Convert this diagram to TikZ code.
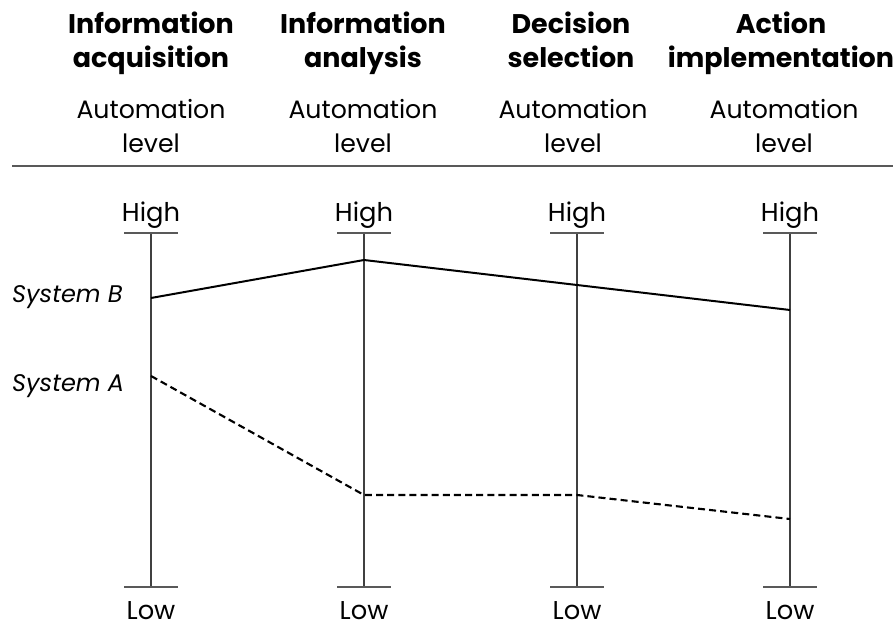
\documentclass[tikz,border=0pt]{standalone}
\usepackage{fontspec}
\setmainfont{Poppins}
\usepackage{tikz}

\begin{document}
\begin{tikzpicture}[x=0.03cm,y=-0.03cm,
    head/.style={anchor=north,align=center,inner sep=0pt,font=\fontsize{23}{29}\selectfont\bfseries},
    sub/.style={anchor=north,align=center,inner sep=0pt,font=\fontsize{21.5}{29}\selectfont},
    ends/.style={anchor=base,inner sep=0pt,font=\fontsize{22}{29}\selectfont},
    sys/.style={anchor=west,inner sep=0pt,font=\fontsize{20.5}{29}\selectfont\itshape},
    axis/.style={draw=black!75,line width=1pt},
    tick/.style={draw=black!65,line width=2pt},
    sysb/.style={draw=black,line width=1.7pt},
    sysa/.style={draw=black,line width=1.8pt,dash pattern=on 6pt off 3.5pt}]

    \useasboundingbox (0,0) rectangle (893,629);

    % headers
    \node[head] (h1) at (151,12) {Information\\acquisition};
    \node[head] (h2) at (363,12) {Information\\analysis};
    \node[head] (h3) at (571,12) {Decision\\selection};
    \node[head] (h4) at (781,12) {Action\\implementation};

    \node[sub] (s1) at (151,99) {Automation\\level};
    \node[sub] (s2) at (363,99) {Automation\\level};
    \node[sub] (s3) at (573,99) {Automation\\level};
    \node[sub] (s4) at (784,99) {Automation\\level};

    \coordinate (rl) at (12,166);
    \coordinate (rr) at (893,166);
    \path[tick] (rl) -- (rr);

    % axes
    \coordinate (top1) at (151,233);
    \coordinate (top2) at (364,233);
    \coordinate (top3) at (577,233);
    \coordinate (top4) at (790,233);
    \coordinate (bot1) at (151,587);
    \coordinate (bot2) at (364,587);
    \coordinate (bot3) at (577,587);
    \coordinate (bot4) at (790,587);

    \node[ends] (hi1) at (151,222) {High};
    \node[ends] (hi2) at (364,222) {High};
    \node[ends] (hi3) at (577,222) {High};
    \node[ends] (hi4) at (790,222) {High};
    \node[ends] (lo1) at (151,619) {Low};
    \node[ends] (lo2) at (364,619) {Low};
    \node[ends] (lo3) at (577,619) {Low};
    \node[ends] (lo4) at (790,619) {Low};

    \path[axis] (top1) -- (bot1);
    \path[axis] (top2) -- (bot2);
    \path[axis] (top3) -- (bot3);
    \path[axis] (top4) -- (bot4);

    \path[tick] ([xshift=-0.8cm]top1) -- ([xshift=0.8cm]top1);
    \path[tick] ([xshift=-0.8cm]top2) -- ([xshift=0.8cm]top2);
    \path[tick] ([xshift=-0.8cm]top3) -- ([xshift=0.8cm]top3);
    \path[tick] ([xshift=-0.8cm]top4) -- ([xshift=0.8cm]top4);
    \path[tick] ([xshift=-0.8cm]bot1) -- ([xshift=0.8cm]bot1);
    \path[tick] ([xshift=-0.8cm]bot2) -- ([xshift=0.8cm]bot2);
    \path[tick] ([xshift=-0.8cm]bot3) -- ([xshift=0.8cm]bot3);
    \path[tick] ([xshift=-0.8cm]bot4) -- ([xshift=0.8cm]bot4);

    % systems
    \node[sys] (sb) at (12,297) {System B};
    \node[sys] (sa) at (12,386) {System A};

    \coordinate (b1) at (151,298);
    \coordinate (b2) at (364,260);
    \coordinate (b3) at (577,285);
    \coordinate (b4) at (790,310);
    \coordinate (a1) at (151,376);
    \coordinate (a2) at (364,495);
    \coordinate (a3) at (577,495);
    \coordinate (a4) at (790,519);

    \path[sysb] (b1) -- (b2) -- (b3) -- (b4);
    \path[sysa] (a1) -- (a2) -- (a3) -- (a4);

\end{tikzpicture}
\end{document}
